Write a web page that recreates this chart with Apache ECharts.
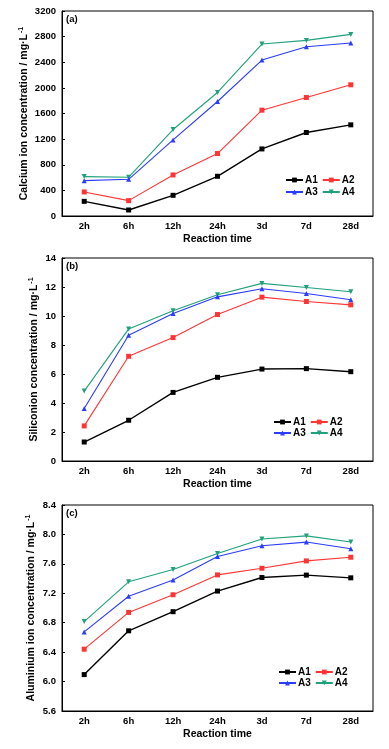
<!DOCTYPE html>
<html><head><meta charset="utf-8">
<script src="https://cdn.jsdelivr.net/npm/echarts@6/dist/echarts.min.js"></script>
<style>html,body{margin:0;padding:0;background:#fff}#c{width:389px;height:749px}</style>
</head><body><div id="c"></div>
<script>
const categories = ['2h', '6h', '12h', '24h', '3d', '7d', '28d'];
const seriesNames = ['A1', 'A2', 'A3', 'A4'];

const calciumA1 = [229, 94, 323, 620, 1047, 1303, 1423];
const calciumA2 = [375, 240, 641, 975, 1652, 1850, 2048];
const calciumA3 = [552, 573, 1188, 1787, 2434, 2642, 2700];
const calciumA4 = [615, 605, 1350, 1928, 2684, 2741, 2835];

const siliconA1 = [1.31, 2.81, 4.73, 5.77, 6.34, 6.37, 6.16];
const siliconA2 = [2.42, 7.22, 8.51, 10.1, 11.3, 11.0, 10.77];
const siliconA3 = [3.62, 8.67, 10.17, 11.32, 11.88, 11.55, 11.12];
const siliconA4 = [4.82, 9.11, 10.36, 11.46, 12.25, 11.97, 11.67];

const aluminiumA1 = [6.095, 6.69, 6.95, 7.23, 7.415, 7.447, 7.41];
const aluminiumA2 = [6.44, 6.94, 7.18, 7.45, 7.54, 7.64, 7.69];
const aluminiumA3 = [6.675, 7.16, 7.38, 7.70, 7.846, 7.896, 7.805];
const aluminiumA4 = [6.816, 7.356, 7.524, 7.74, 7.937, 7.98, 7.896];

const panelLabels = ['(a)', '(b)', '(c)'];
const yNames = ['Calcium ion concentration / mg·L', 'Siliconion concentration / mg·L', 'Aluminium ion concentration / mg·L'];
const yTicksA = [0, 3200, 400];
const yTicksB = [0, 14, 2];
const yTicksC = [5.6, 8.4, 0.4];
const xName = 'Reaction time';

const panelData = [
  [calciumA1, calciumA2, calciumA3, calciumA4],
  [siliconA1, siliconA2, siliconA3, siliconA4],
  [aluminiumA1, aluminiumA2, aluminiumA3, aluminiumA4]
];
const yTicks = [yTicksA, yTicksB, yTicksC];

const colors = ['#000000', '#ff3535', '#2a3cff', '#20a07c'];
const symbols = ['rect', 'rect', 'triangle', 'path://M0,0 L10,0 L5,9 Z'];
const FONT = '"Liberation Sans", Arial, sans-serif';

const grids = [
  {left: 62, top: 11, width: 311, height: 205},
  {left: 62, top: 258, width: 311, height: 203},
  {left: 62, top: 505, width: 311, height: 206}
];
const nameGaps = [31, 21, 24];
const legendPos = [
  {left: 285, r1: 175, r2: 187},
  {left: 273, r1: 417, r2: 428},
  {left: 278, r1: 667, r2: 678}
];

const option = {
  animation: false,
  backgroundColor: '#fff',
  textStyle: {fontFamily: FONT},
  grid: grids.map(g => Object.assign({show: true, borderColor: '#000', borderWidth: 1, backgroundColor: 'transparent', containLabel: false}, g)),
  title: panelLabels.map((t, i) => ({
    text: t, left: grids[i].left + 4, top: grids[i].top + 3, padding: 0,
    textStyle: {fontSize: 9.5, fontWeight: 'bold', color: '#000', fontFamily: FONT}
  })),
  xAxis: grids.map((g, i) => ({
    type: 'category', gridIndex: i, data: categories, boundaryGap: true,
    name: xName, nameLocation: 'middle', nameGap: 18, nameMoveOverlap: false,
    nameTextStyle: {fontSize: 10.5, fontWeight: 'bold', color: '#000', fontFamily: FONT},
    axisLine: {lineStyle: {color: '#000', width: 1}},
    axisTick: {inside: true, alignWithLabel: true, length: 3, lineStyle: {color: '#000'}},
    axisLabel: {fontSize: 9.5, fontWeight: 'bold', color: '#000', margin: 5, fontFamily: FONT},
    splitLine: {show: false}
  })),
  yAxis: grids.map((g, i) => ({
    type: 'value', gridIndex: i, min: yTicks[i][0], max: yTicks[i][1], interval: yTicks[i][2],
    name: yNames[i] + '{sup|-1}', nameLocation: 'middle', nameGap: nameGaps[i], nameRotate: 90,
    nameMoveOverlap: false,
    nameTextStyle: {fontSize: 10.5, fontWeight: 'bold', color: '#000', fontFamily: FONT,
      rich: {sup: {fontSize: 7, fontWeight: 'bold', verticalAlign: 'top', color: '#000', padding: [0, 0, 6, 1], fontFamily: FONT}}},
    axisLine: {show: true, lineStyle: {color: '#000', width: 1}},
    axisTick: {show: true, inside: true, length: 3, lineStyle: {color: '#000'}},
    axisLabel: {fontSize: 9.5, fontWeight: 'bold', color: '#000', margin: 6, fontFamily: FONT,
      formatter: v => i === 2 ? v.toFixed(1) : String(Math.round(v))},
    splitLine: {show: false}
  })),
  legend: [],
  series: []
};

panelData.forEach((arrs, p) => {
  arrs.forEach((arr, s) => {
    option.series.push({
      type: 'line', name: seriesNames[s], xAxisIndex: p, yAxisIndex: p,
      data: arr, symbol: symbols[s], symbolSize: 5,
      itemStyle: {color: colors[s]},
      lineStyle: {color: colors[s], width: s === 0 ? 1.4 : 1.1},
      z: 10 - s
    });
  });
  const lp = legendPos[p];
  [[0, 1, lp.r1], [2, 3, lp.r2]].forEach(([a, b, top]) => {
    option.legend.push({
      data: [seriesNames[a], seriesNames[b]], left: lp.left, top: top, orient: 'horizontal',
      itemWidth: 17, itemHeight: 6, itemGap: 4, padding: 0, selectedMode: false,
      textStyle: {fontSize: 10, fontWeight: 'bold', color: '#000', fontFamily: FONT, padding: [0, 0, 0, -3]}
    });
  });
});

const chart = echarts.init(document.getElementById('c'), null, {renderer: 'canvas'});
chart.setOption(option);
</script></body></html>
